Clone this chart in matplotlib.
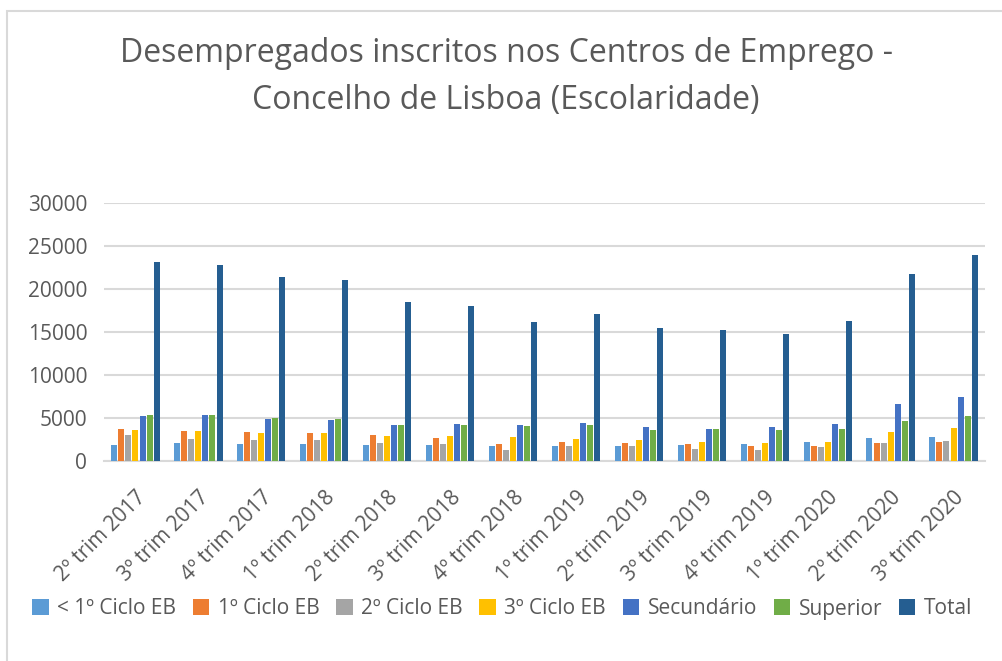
import numpy as np
import matplotlib
matplotlib.use('Agg')
import matplotlib.pyplot as plt
from matplotlib.patches import Rectangle

plt.rcParams['font.family'] = ['Open Sans', 'DejaVu Sans']

# Data
quarters = ['2º trim 2017', '3º trim 2017', '4º trim 2017', '1º trim 2018',
            '2º trim 2018', '3º trim 2018', '4º trim 2018', '1º trim 2019',
            '2º trim 2019', '3º trim 2019', '4º trim 2019', '1º trim 2020',
            '2º trim 2020', '3º trim 2020']
menos_1ciclo = [1900, 2100, 2000, 2000, 1900, 1850, 1800, 1800, 1700, 1850, 1950, 2250, 2650, 2800]
ciclo1 = [3700, 3500, 3400, 3300, 3000, 2700, 1950, 2200, 2050, 2000, 1700, 1800, 2150, 2200]
ciclo2 = [3000, 2600, 2500, 2500, 2100, 2000, 1300, 1700, 1700, 1450, 1300, 1600, 2050, 2300]
ciclo3 = [3600, 3450, 3300, 3300, 2950, 2900, 2750, 2600, 2450, 2250, 2050, 2250, 3400, 3850]
secundario = [5200, 5350, 4900, 4800, 4150, 4300, 4150, 4400, 3950, 3700, 3900, 4250, 6600, 7450]
superior = [5350, 5300, 5050, 4900, 4150, 4200, 4070, 4150, 3600, 3700, 3600, 3750, 4650, 5200]
total = [23100, 22750, 21400, 21100, 18450, 18000, 16150, 17100, 15500, 15250, 14800, 16300, 21700, 23950]

series_names = ['< 1º Ciclo EB', '1º Ciclo EB', '2º Ciclo EB', '3º Ciclo EB',
                'Secundário', 'Superior', 'Total']
series_vals = [menos_1ciclo, ciclo1, ciclo2, ciclo3, secundario, superior, total]
colors = ['#5B9BD5', '#ED7D31', '#A5A5A5', '#FFC000', '#4472C4', '#70AD47', '#255E91']

W, H = 1002, 661
fig = plt.figure(figsize=(W / 100, H / 100), dpi=100)

# outer chart frame
fig.patches.append(Rectangle((7 / W, -0.1), 1.2, (H - 11) / H + 0.1,
                             transform=fig.transFigure, fill=False,
                             edgecolor='#d9d9d9', lw=1.5))

ax = fig.add_axes([104 / W, (H - 461) / H, (985 - 104) / W, (461 - 203) / H])

x = np.arange(len(quarters))
pitch = 0.112
bw = 0.095
for i, (name, vals, c) in enumerate(zip(series_names, series_vals, colors)):
    ax.bar(x + (i - 3) * pitch, vals, width=bw, color=c, label=name, zorder=3)

ax.set_xlim(-0.5, len(quarters) - 0.5)
ax.set_ylim(0, 30000)
ax.set_yticks(np.arange(0, 30001, 5000))
ax.yaxis.grid(True, color='#d9d9d9', lw=1.5, zorder=0)
for s in ['top', 'right', 'left']:
    ax.spines[s].set_visible(False)
ax.spines['bottom'].set_color('#d9d9d9')
ax.spines['bottom'].set_linewidth(1.5)
ax.tick_params(axis='both', length=0, labelsize=15, labelcolor='#595959')
ax.tick_params(axis='y', pad=12)
ax.set_xticks(x)
ax.set_xticklabels(quarters, rotation=45, ha='right', rotation_mode='anchor')
ax.tick_params(axis='x', pad=19)

fig.text(0.505, 1 - 54 / H, 'Desempregados inscritos nos Centros de Emprego -',
         ha='center', va='center', fontsize=23, color='#595959')
fig.text(0.505, 1 - 100 / H, 'Concelho de Lisboa (Escolaridade)',
         ha='center', va='center', fontsize=23, color='#595959')

fig.legend(loc='center', bbox_to_anchor=(502 / W, 1 - 609 / H), ncol=7,
           frameon=False, fontsize=15, labelcolor='#595959',
           handlelength=0.8, handleheight=0.8, handletextpad=0.4,
           columnspacing=0.8)

plt.savefig('out.png', dpi=100)
